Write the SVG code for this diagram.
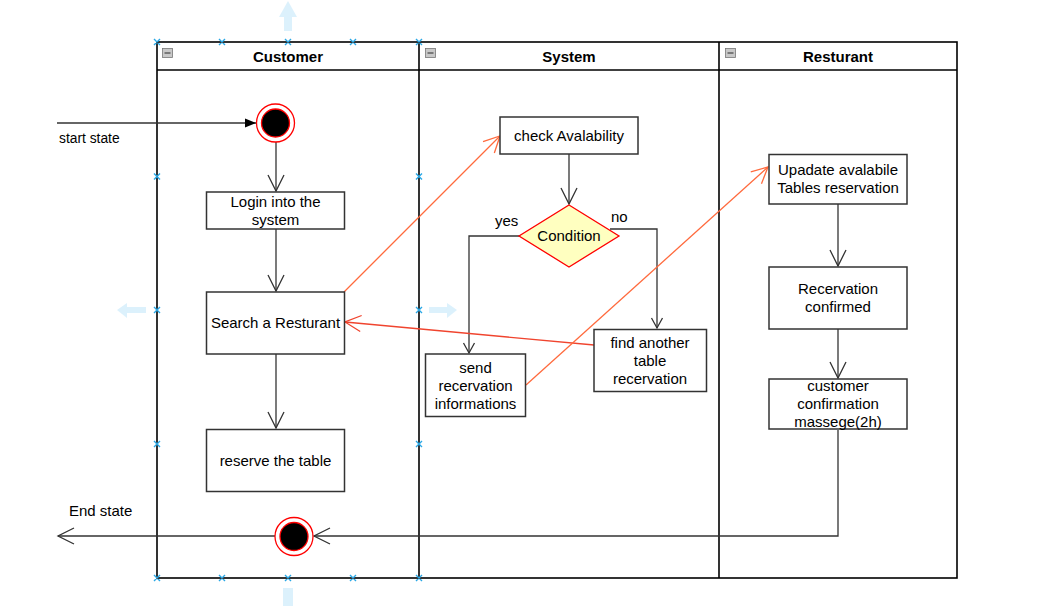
<svg xmlns="http://www.w3.org/2000/svg" width="1048" height="606" viewBox="0 0 1048 606">
<style>
text{font-family:"Liberation Sans",Arial,sans-serif;font-size:15px;fill:#000}
.hd{font-weight:bold;font-size:15px}
.c{text-anchor:middle}
.pool{fill:#fff;stroke:#000;stroke-width:1.6}
.box{fill:#fff;stroke:#333;stroke-width:1.5}
.ln{fill:none;stroke:#333;stroke-width:1.3}
.or{fill:none;stroke:#ff6a3d;stroke-width:1.3}
.rd{fill:none;stroke:#f0442e;stroke-width:1.3}
.mk{fill:none;stroke:#2aa8e6;stroke-width:1.4}
.ga{fill:#d6eefb;opacity:0.85}
.ic{fill:#c8c8c8;stroke:#777;stroke-width:0.8}
</style>
<defs>
<marker id="big" markerUnits="userSpaceOnUse" markerWidth="18" markerHeight="18" refX="16" refY="8" orient="auto" overflow="visible"><path d="M0,0 L16,8 L0,16" fill="none" stroke="#333" stroke-width="1.3"/></marker>
<marker id="bigO" markerUnits="userSpaceOnUse" markerWidth="18" markerHeight="18" refX="16" refY="8" orient="auto" overflow="visible"><path d="M0,0 L16,8 L0,16" fill="none" stroke="#ff6a3d" stroke-width="1.3"/></marker>
<marker id="bigR" markerUnits="userSpaceOnUse" markerWidth="18" markerHeight="18" refX="16" refY="8" orient="auto" overflow="visible"><path d="M0,0 L16,8 L0,16" fill="none" stroke="#f0442e" stroke-width="1.3"/></marker>
<marker id="sm" markerUnits="userSpaceOnUse" markerWidth="12" markerHeight="12" refX="10" refY="5.5" orient="auto" overflow="visible"><path d="M0,0 L10,5.5 L0,11" fill="none" stroke="#333" stroke-width="1.3"/></marker>
<marker id="fill" markerUnits="userSpaceOnUse" markerWidth="12" markerHeight="12" refX="11" refY="4.5" orient="auto" overflow="visible"><path d="M0,0 L11,4.5 L0,9 Z" fill="#000"/></marker>
</defs>

<!-- pool -->
<g id="pool">
<rect class="pool" x="157" y="42" width="800" height="536"/>
<line class="pool" x1="157" y1="70" x2="957" y2="70"/>
<line class="pool" x1="419" y1="42" x2="419" y2="578"/>
<line class="pool" x1="719" y1="42" x2="719" y2="578"/>
<g id="lane-customer">
<rect class="ic" x="162.5" y="48.5" width="10" height="9"/><line x1="164.5" y1="53" x2="170.5" y2="53" stroke="#444" stroke-width="1.2"/>
<text class="hd c" x="288" y="62">Customer</text>
</g>
<g id="lane-system">
<rect class="ic" x="425.5" y="48.5" width="10" height="9"/><line x1="427.5" y1="53" x2="433.5" y2="53" stroke="#444" stroke-width="1.2"/>
<text class="hd c" x="569" y="62">System</text>
</g>
<g id="lane-resturant">
<rect class="ic" x="725.5" y="48.5" width="10" height="9"/><line x1="727.5" y1="53" x2="733.5" y2="53" stroke="#444" stroke-width="1.2"/>
<text class="hd c" x="838" y="62">Resturant</text>
</g>
</g>

<!-- guide arrows (editor overlay) -->
<g id="guides">
<path class="ga" d="M288,1 L297,17 L292,17 L292,31 L284,31 L284,17 L279,17 Z"/>
<path class="ga" d="M283,588 L293,588 L293,606 L283,606 Z"/>
<path class="ga" d="M117,310 L127,303 L127,307 L146,307 L146,313 L127,313 L127,318 Z"/>
<path class="ga" d="M457,310 L447,303 L447,307 L429,307 L429,313 L447,313 L447,318 Z"/>
</g>

<!-- connectors -->
<g id="connectors">
<line class="ln" x1="57" y1="123" x2="256" y2="123" stroke="#000" marker-end="url(#fill)"/>
<line class="ln" x1="276" y1="142" x2="276" y2="191" marker-end="url(#big)"/>
<line class="ln" x1="276" y1="229" x2="276" y2="291" marker-end="url(#big)"/>
<line class="ln" x1="276" y1="354" x2="276" y2="428" marker-end="url(#big)"/>
<line class="ln" x1="569" y1="154" x2="569" y2="204" marker-end="url(#big)"/>
<polyline class="ln" points="530,236 469,236 469,353" marker-end="url(#sm)"/>
<polyline class="ln" points="610,229 657,229 657,328" marker-end="url(#sm)"/>
<line class="ln" x1="838" y1="204" x2="838" y2="266" marker-end="url(#big)"/>
<line class="ln" x1="838" y1="329" x2="838" y2="378" marker-end="url(#big)"/>
<polyline class="ln" points="838,430 838,536 314,536" marker-end="url(#big)"/>
<line class="ln" x1="275" y1="536" x2="58" y2="536" marker-end="url(#big)"/>
<line class="or" x1="344" y1="292" x2="500" y2="136" marker-end="url(#bigO)"/>
<line class="rd" x1="594" y1="345" x2="345" y2="322" marker-end="url(#bigR)"/>
<line class="or" x1="526" y1="385" x2="768" y2="167" marker-end="url(#bigO)"/>
<text x="59" y="143" style="font-size:13.8px">start state</text>
<text x="69" y="516">End state</text>
<text x="495" y="226">yes</text>
<text x="611" y="222">no</text>
</g>

<!-- nodes -->
<g id="start">
<circle cx="275.5" cy="123" r="19" fill="#fff" stroke="#f00" stroke-width="1.3"/>
<circle cx="275.5" cy="123" r="14" fill="#000" stroke="#f00" stroke-width="1.3"/>
</g>
<g id="login"><rect class="box" x="206.5" y="192" width="138" height="37"/><text class="c" x="275.5" y="207">Login into the</text><text class="c" x="275.5" y="225">system</text></g>
<g id="search"><rect class="box" x="206.5" y="292" width="138" height="62"/><text class="c" x="275.5" y="328">Search a Resturant</text></g>
<g id="reserve"><rect class="box" x="206.5" y="429.5" width="138" height="62"/><text class="c" x="275.5" y="466">reserve the table</text></g>
<g id="end">
<circle cx="294" cy="536.5" r="19" fill="#fff" stroke="#f00" stroke-width="1.3"/>
<circle cx="294" cy="536.5" r="14" fill="#000" stroke="#f00" stroke-width="1.3"/>
</g>
<g id="check"><rect class="box" x="500" y="117" width="138" height="37"/><text class="c" x="569" y="141">check Avalability</text></g>
<g id="condition"><polygon points="569,205 619,236 569,267 519,236" fill="#ffffc0" stroke="#f00" stroke-width="1.3"/><text class="c" x="569" y="241">Condition</text></g>
<g id="send"><rect class="box" x="425.5" y="354" width="100" height="62.5"/><text class="c" x="475.5" y="373">send</text><text class="c" x="475.5" y="391">recervation</text><text class="c" x="475.5" y="409">informations</text></g>
<g id="find"><rect class="box" x="594" y="329.5" width="112.5" height="62"/><text class="c" x="650" y="348">find another</text><text class="c" x="650" y="366">table</text><text class="c" x="650" y="384">recervation</text></g>
<g id="update"><rect class="box" x="769" y="154.5" width="138" height="49.5"/><text class="c" x="838" y="175">Upadate avalabile</text><text class="c" x="838" y="193">Tables reservation</text></g>
<g id="confirmed"><rect class="box" x="769" y="267" width="138" height="62"/><text class="c" x="838" y="294">Recervation</text><text class="c" x="838" y="312">confirmed</text></g>
<g id="message"><rect class="box" x="769" y="379" width="138" height="50"/><text class="c" x="838" y="391">customer</text><text class="c" x="838" y="409">confirmation</text><text class="c" x="838" y="427">massege(2h)</text></g>

<!-- selection handles -->
<g id="handles" class="mk">
<path d="M154,39l6,6m0,-6l-6,6 M219,39l6,6m0,-6l-6,6 M285,39l6,6m0,-6l-6,6 M350,39l6,6m0,-6l-6,6 M416,39l6,6m0,-6l-6,6"/>
<path d="M154,575l6,6m0,-6l-6,6 M219,575l6,6m0,-6l-6,6 M285,575l6,6m0,-6l-6,6 M350,575l6,6m0,-6l-6,6 M416,575l6,6m0,-6l-6,6"/>
<path d="M154,173.5l6,6m0,-6l-6,6 M154,307l6,6m0,-6l-6,6 M154,441l6,6m0,-6l-6,6"/>
<path d="M416,173.5l6,6m0,-6l-6,6 M416,307l6,6m0,-6l-6,6 M416,441l6,6m0,-6l-6,6"/>
</g>
</svg>
